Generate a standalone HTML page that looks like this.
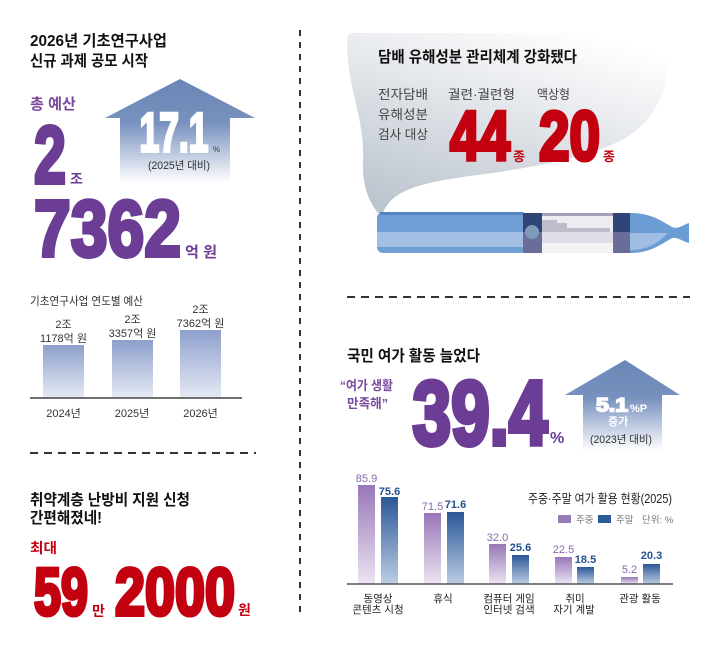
<!DOCTYPE html>
<html><head><meta charset="utf-8">
<style>
html,body{margin:0;padding:0;background:#fff;}
svg{display:block;}
text{font-family:"Liberation Sans","Noto Sans CJK KR",sans-serif;}
.b{font-weight:bold;}
.h{font-weight:bold;paint-order:stroke fill;stroke-linejoin:miter;stroke-miterlimit:3;}
</style></head><body>
<svg width="720" height="648" viewBox="0 0 720 648" xmlns="http://www.w3.org/2000/svg">
<defs>
<linearGradient id="arr" x1="0" y1="0" x2="0" y2="1">
 <stop offset="0" stop-color="#6a86b6"/>
 <stop offset="0.42" stop-color="#7891be"/>
 <stop offset="1" stop-color="#ffffff"/>
</linearGradient>
<linearGradient id="barL" x1="0" y1="0" x2="0" y2="1">
 <stop offset="0" stop-color="#8d9fcc"/>
 <stop offset="1" stop-color="#e6eaf4"/>
</linearGradient>
<linearGradient id="pur" x1="0" y1="0" x2="0" y2="1">
 <stop offset="0" stop-color="#9877b7"/>
 <stop offset="1" stop-color="#ece4f2"/>
</linearGradient>
<linearGradient id="blu" x1="0" y1="0" x2="0" y2="1">
 <stop offset="0" stop-color="#2b5797"/>
 <stop offset="1" stop-color="#bccde4"/>
</linearGradient>
<linearGradient id="smoke" x1="0.75" y1="0" x2="0.2" y2="1">
 <stop offset="0" stop-color="#ffffff"/>
 <stop offset="0.3" stop-color="#eceef1"/>
 <stop offset="1" stop-color="#bcc4ce"/>
</linearGradient>
</defs>

<!-- dashed separators -->
<line x1="300" y1="30" x2="300" y2="617" stroke="#333" stroke-width="2" stroke-dasharray="6 6"/>
<line x1="30" y1="453" x2="256" y2="453" stroke="#333" stroke-width="2" stroke-dasharray="8 6"/>
<line x1="347" y1="297" x2="690" y2="297" stroke="#333" stroke-width="2" stroke-dasharray="8 6"/>

<!-- ===== Top-left ===== -->
<text x="30" y="46" font-size="15.5" class="b" fill="#111" textLength="137" lengthAdjust="spacingAndGlyphs">2026년 기초연구사업</text>
<text x="30" y="66" font-size="15.5" class="b" fill="#111" textLength="118" lengthAdjust="spacingAndGlyphs">신규 과제 공모 시작</text>
<text x="30" y="109" font-size="15" class="b" fill="#7a4a9e" textLength="46" lengthAdjust="spacingAndGlyphs">총 예산</text>

<polygon points="180,79 255,118 230,118 230,183 120,183 120,118 105,118" fill="url(#arr)"/>
<text x="139.5" y="151.5" font-size="55.5" class="h" fill="#fff" stroke="#fff" stroke-width="3" textLength="69" lengthAdjust="spacingAndGlyphs">17.1</text>
<text x="213" y="152" font-size="8" fill="#444">%</text>
<text x="148" y="169" font-size="11" fill="#333" textLength="62" lengthAdjust="spacingAndGlyphs">(2025년 대비)</text>

<text x="34" y="183" font-size="82" class="h" fill="#6c3d95" stroke="#6c3d95" stroke-width="4" textLength="32" lengthAdjust="spacingAndGlyphs">2</text>
<text x="70" y="184" font-size="14" class="b" fill="#6c3d95">조</text>
<text x="34" y="256" font-size="79.5" class="h" fill="#6c3d95" stroke="#6c3d95" stroke-width="4" textLength="147" lengthAdjust="spacingAndGlyphs">7362</text>
<text x="185" y="257" font-size="15" class="b" fill="#6c3d95" textLength="32" lengthAdjust="spacingAndGlyphs">억 원</text>

<!-- left bar chart -->
<text x="30" y="305" font-size="11.5" fill="#333" textLength="113" lengthAdjust="spacingAndGlyphs">기초연구사업 연도별 예산</text>
<rect x="43" y="345" width="41" height="53" fill="url(#barL)"/>
<rect x="112" y="340" width="41" height="58" fill="url(#barL)"/>
<rect x="180" y="330" width="41" height="68" fill="url(#barL)"/>
<line x1="30" y1="398" x2="242" y2="398" stroke="#444" stroke-width="1.5"/>
<g font-size="11" fill="#333" text-anchor="middle">
 <text x="63.5" y="328">2조</text>
 <text x="63.5" y="342">1178억 원</text>
 <text x="132.5" y="323">2조</text>
 <text x="132.5" y="337">3357억 원</text>
 <text x="200.5" y="313">2조</text>
 <text x="200.5" y="327">7362억 원</text>
 <text x="63.5" y="417">2024년</text>
 <text x="132" y="417">2025년</text>
 <text x="200.5" y="417">2026년</text>
</g>

<!-- ===== Bottom-left ===== -->
<text x="30" y="505" font-size="15.5" class="b" fill="#111" textLength="160" lengthAdjust="spacingAndGlyphs">취약계층 난방비 지원 신청</text>
<text x="30" y="523" font-size="15.5" class="b" fill="#111" textLength="72" lengthAdjust="spacingAndGlyphs">간편해졌네!</text>
<text x="30" y="553" font-size="14" class="b" fill="#c3000f" textLength="27" lengthAdjust="spacingAndGlyphs">최대</text>
<text x="34" y="615" font-size="67" class="h" fill="#c3000f" stroke="#c3000f" stroke-width="4" textLength="54" lengthAdjust="spacingAndGlyphs">59</text>
<text x="92" y="616" font-size="14" class="b" fill="#c3000f">만</text>
<text x="115" y="615" font-size="67" class="h" fill="#c3000f" stroke="#c3000f" stroke-width="4" textLength="120" lengthAdjust="spacingAndGlyphs">2000</text>
<text x="238" y="615" font-size="14" class="b" fill="#c3000f">원</text>

<!-- ===== Top-right ===== -->
<path d="M352,33 L670,33 C672,80 660,115 630,135 C600,155 540,167 470,176 C420,183 392,190 383,213 L378,213 C368,200 362,185 363,160 C365,120 348,90 347,45 Q347,33 352,33 Z" fill="url(#smoke)"/>

<text x="378" y="62" font-size="15.5" class="b" fill="#111" textLength="199" lengthAdjust="spacingAndGlyphs">담배 유해성분 관리체계 강화됐다</text>
<g font-size="13" fill="#444">
 <text x="378" y="99" textLength="50" lengthAdjust="spacingAndGlyphs">전자담배</text>
 <text x="378" y="119" textLength="50" lengthAdjust="spacingAndGlyphs">유해성분</text>
 <text x="378" y="139" textLength="50" lengthAdjust="spacingAndGlyphs">검사 대상</text>
 <text x="448" y="99" textLength="67" lengthAdjust="spacingAndGlyphs">궐련·궐련형</text>
 <text x="537" y="99" textLength="33" lengthAdjust="spacingAndGlyphs">액상형</text>
</g>
<text x="450" y="160" font-size="70" class="h" fill="#c3000f" stroke="#c3000f" stroke-width="4" textLength="60" lengthAdjust="spacingAndGlyphs">44</text>
<text x="513" y="161" font-size="13" class="b" fill="#c3000f">종</text>
<text x="539" y="160" font-size="70" class="h" fill="#c3000f" stroke="#c3000f" stroke-width="4" textLength="61" lengthAdjust="spacingAndGlyphs">20</text>
<text x="603" y="161" font-size="13" class="b" fill="#c3000f">종</text>

<!-- e-cigarette -->
<g>
 <rect x="377" y="212" width="150" height="41" rx="6" fill="#6f9fd5"/>
 <rect x="380" y="212" width="143" height="3" fill="#5583bd"/>
 <rect x="377" y="232" width="146" height="15" fill="#a3bfe3"/>
 <rect x="523" y="213" width="19" height="40" fill="#2f4577"/>
 <rect x="523" y="232" width="19" height="21" fill="#6a6d9a"/>
 <circle cx="532" cy="232" r="7" fill="#7e9cb9"/>
 <rect x="542" y="213" width="71" height="40" fill="#ececf1"/>
 <rect x="542" y="213" width="71" height="3" fill="#a79fb6"/>
 <polygon points="542,220 557,220 557,223 567,223 567,228 610,228 610,232 542,232" fill="#bdbdcb"/>
 <rect x="542" y="232" width="71" height="11" fill="#dedee6"/>
 <rect x="542" y="243" width="71" height="10" fill="#f4f4f7"/>
 <rect x="613" y="213" width="17" height="40" fill="#2f4577"/>
 <rect x="613" y="232" width="17" height="21" fill="#6a6d9a"/>
 <path d="M630,213 C650,213 660,220 672,227 C678,230 684,224 689,223 L689,243 C684,242 678,237 672,238 C660,245 650,253 630,253 Z" fill="#6b9cd4"/>
 <path d="M630,233 L668,233 C658,243 648,250 630,250 Z" fill="#a0bde3"/>
</g>

<!-- ===== Middle-right ===== -->
<text x="347" y="361" font-size="15.5" class="b" fill="#111" textLength="133" lengthAdjust="spacingAndGlyphs">국민 여가 활동 늘었다</text>
<text x="340" y="390" font-size="13" fill="#7a4a9e" class="b" textLength="53" lengthAdjust="spacingAndGlyphs">“여가 생활</text>
<text x="347" y="408" font-size="13" fill="#7a4a9e" class="b" textLength="41" lengthAdjust="spacingAndGlyphs">만족해”</text>
<text x="412.5" y="444.5" font-size="90.5" class="h" fill="#6c3d95" stroke="#6c3d95" stroke-width="5" textLength="135" lengthAdjust="spacingAndGlyphs">39.4</text>
<text x="550" y="443" font-size="16" class="b" fill="#6c3d95">%</text>

<polygon points="625,360 680,395 662,395 662,451 583,451 583,395 565,395" fill="url(#arr)"/>
<text x="596" y="411.5" font-size="19.5" class="h" fill="#fff" stroke="#fff" stroke-width="1.6" textLength="32" lengthAdjust="spacingAndGlyphs">5.1</text>
<text x="630" y="412" font-size="11" class="b" fill="#fff">%P</text>
<text x="608" y="425" font-size="11" class="b" fill="#fff">증가</text>
<text x="590" y="443" font-size="11" fill="#333" textLength="62" lengthAdjust="spacingAndGlyphs">(2023년 대비)</text>

<!-- ===== Bottom-right chart ===== -->
<text x="528" y="503" font-size="12.5" fill="#222" textLength="144" lengthAdjust="spacingAndGlyphs">주중·주말 여가 활용 현황(2025)</text>
<rect x="558" y="515" width="13" height="8" fill="#9a7bb7"/>
<text x="576" y="523" font-size="9.5" fill="#777">주중</text>
<rect x="598" y="515" width="13" height="8" fill="#2d5b9a"/>
<text x="616" y="523" font-size="9.5" fill="#777">주말</text>
<text x="642" y="523" font-size="9.5" fill="#777">단위: %</text>

<rect x="358" y="485" width="17" height="99" fill="url(#pur)"/>
<rect x="381" y="497" width="17" height="87" fill="url(#blu)"/>
<rect x="424" y="513" width="17" height="71" fill="url(#pur)"/>
<rect x="447" y="512" width="17" height="72" fill="url(#blu)"/>
<rect x="489" y="544" width="17" height="40" fill="url(#pur)"/>
<rect x="512" y="555" width="17" height="29" fill="url(#blu)"/>
<rect x="555" y="557" width="17" height="27" fill="url(#pur)"/>
<rect x="577" y="567" width="17" height="17" fill="url(#blu)"/>
<rect x="621" y="577" width="17" height="7" fill="url(#pur)"/>
<rect x="643" y="564" width="17" height="20" fill="url(#blu)"/>
<line x1="347" y1="584" x2="673" y2="584" stroke="#555" stroke-width="1.5"/>

<g font-size="11" text-anchor="middle">
 <text x="366.5" y="482" fill="#8a68aa">85.9</text>
 <text x="389.5" y="495" fill="#23508e" class="b">75.6</text>
 <text x="432.5" y="510" fill="#8a68aa">71.5</text>
 <text x="455.5" y="508" fill="#23508e" class="b">71.6</text>
 <text x="497.5" y="541" fill="#8a68aa">32.0</text>
 <text x="520.5" y="551" fill="#23508e" class="b">25.6</text>
 <text x="563.5" y="553" fill="#8a68aa">22.5</text>
 <text x="585.5" y="563" fill="#23508e" class="b">18.5</text>
 <text x="629.5" y="573" fill="#8a68aa">5.2</text>
 <text x="651.5" y="559" fill="#23508e" class="b">20.3</text>
</g>
<g font-size="10.5" fill="#222" text-anchor="middle">
 <text x="378" y="602">동영상</text>
 <text x="378" y="613">콘텐츠 시청</text>
 <text x="443" y="602">휴식</text>
 <text x="509" y="602">컴퓨터 게임</text>
 <text x="509" y="613">인터넷 검색</text>
 <text x="575" y="602">취미</text>
 <text x="574" y="613">자기 계발</text>
 <text x="640" y="602">관광 활동</text>
</g>
</svg>
</body></html>
